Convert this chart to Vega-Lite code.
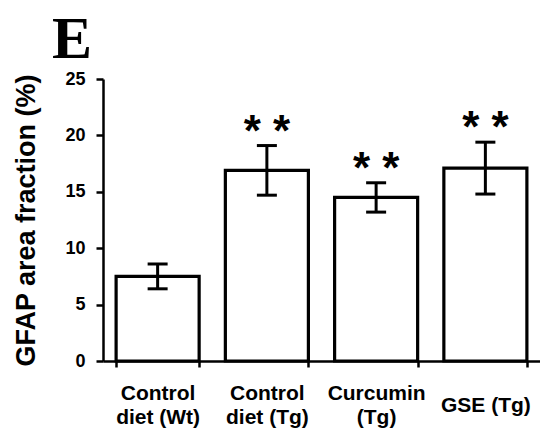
{
  "$schema": "https://vega.github.io/schema/vega-lite/v6.json",
  "width": 437,
  "height": 282,
  "autosize": {"type": "none"},
  "padding": {"left": 103, "top": 79, "right": 0, "bottom": 75},
  "background": "white",
  "title": {
    "text": "E",
    "anchor": "start",
    "frame": "group",
    "font": "Liberation Serif",
    "fontSize": 60,
    "fontWeight": "bold",
    "color": "black",
    "dx": -51,
    "offset": -48,
    "baseline": "alphabetic"
  },
  "data": {
    "values": [
      {"g": "Control\ndiet (Wt)", "v": 7.5, "lo": 6.4, "hi": 8.6, "sig": ""},
      {"g": "Control\ndiet (Tg)", "v": 16.9, "lo": 14.7, "hi": 19.1, "sig": "* *"},
      {"g": "Curcumin\n(Tg)", "v": 14.5, "lo": 13.2, "hi": 15.8, "sig": "* *"},
      {"g": "GSE (Tg)", "v": 17.1, "lo": 14.8, "hi": 19.4, "sig": "* *"}
    ]
  },
  "encoding": {
    "x": {
      "field": "g",
      "type": "nominal",
      "sort": null,
      "scale": {"paddingInner": 0.24, "paddingOuter": 0.12},
      "axis": {
        "title": null,
        "labelAngle": 0,
        "labelExpr": "split(datum.label, '\\n')",
        "labelFont": "Liberation Sans",
        "labelFontWeight": "bold",
        "labelFontSize": 21,
        "labelColor": "black",
        "labelLineHeight": 24,
        "labelBaseline": "middle",
        "labelPadding": {"condition": {"test": "datum.value == 'GSE (Tg)'", "value": 38}, "value": 26},
        "labelLimit": 0,
        "tickBand": "extent",
        "tickSize": 6,
        "tickWidth": 2.5,
        "tickColor": "black",
        "domainColor": "black",
        "domainWidth": 2.5
      }
    }
  },
  "layer": [
    {
      "mark": {"type": "bar", "fill": "white", "stroke": "black", "strokeWidth": 3.2},
      "encoding": {
        "y": {
          "field": "v",
          "type": "quantitative",
          "title": "GFAP area fraction (%)",
          "scale": {"domain": [0, 25], "nice": false},
          "axis": {"values": [0, 5, 10, 15, 20, 25]}
        }
      }
    },
    {
      "mark": {"type": "rule", "strokeWidth": 3, "color": "black"},
      "encoding": {
        "y": {"field": "lo", "type": "quantitative", "title": "GFAP area fraction (%)"},
        "y2": {"field": "hi"}
      }
    },
    {
      "mark": {"type": "tick", "size": 20, "thickness": 3, "color": "black", "opacity": 1},
      "encoding": {
        "y": {"field": "lo", "type": "quantitative", "title": "GFAP area fraction (%)"}
      }
    },
    {
      "mark": {"type": "tick", "size": 20, "thickness": 3, "color": "black", "opacity": 1},
      "encoding": {
        "y": {"field": "hi", "type": "quantitative", "title": "GFAP area fraction (%)"}
      }
    },
    {
      "mark": {"type": "text", "font": "Liberation Sans", "fontWeight": "bold", "fontSize": 44, "baseline": "alphabetic", "dy": 0, "color": "black"},
      "encoding": {
        "y": {"field": "hi", "type": "quantitative", "title": "GFAP area fraction (%)"},
        "text": {"field": "sig"}
      }
    }
  ],
  "config": {
    "view": {"stroke": null},
    "axisY": {
      "grid": false,
      "tickSize": 7,
      "tickWidth": 2.5,
      "tickColor": "black",
      "domainWidth": 2.5,
      "domainColor": "black",
      "labelFont": "Liberation Sans",
      "labelFontWeight": "bold",
      "labelFontSize": 18,
      "labelColor": "black",
      "labelPadding": 11,
      "titleFont": "Liberation Sans",
      "titleFontWeight": "bold",
      "titleFontSize": 27,
      "titleColor": "black",
      "titlePadding": 24
    }
  }
}
